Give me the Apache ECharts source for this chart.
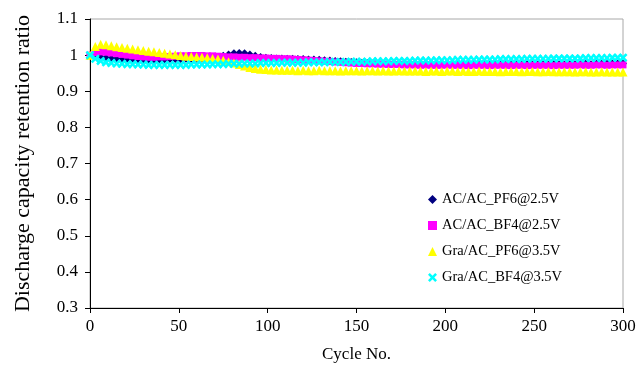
<!DOCTYPE html>
<html>
<head>
<meta charset="utf-8">
<script src="https://cdn.jsdelivr.net/npm/echarts@6/dist/echarts.min.js"></script>
<style>
  html, body { margin: 0; padding: 0; background: #fff; }
  #chart { width: 639px; height: 369px; }
</style>
</head>
<body>
<div id="chart"></div>
<script>
// cycle numbers (every 3rd cycle)
const cycles = [
  0, 3, 6, 9, 12, 15, 18, 21, 24, 27,
  30, 33, 36, 39, 42, 45, 48, 51, 54, 57,
  60, 63, 66, 69, 72, 75, 78, 81, 84, 87,
  90, 93, 96, 99, 102, 105, 108, 111, 114, 117,
  120, 123, 126, 129, 132, 135, 138, 141, 144, 147,
  150, 153, 156, 159, 162, 165, 168, 171, 174, 177,
  180, 183, 186, 189, 192, 195, 198, 201, 204, 207,
  210, 213, 216, 219, 222, 225, 228, 231, 234, 237,
  240, 243, 246, 249, 252, 255, 258, 261, 264, 267,
  270, 273, 276, 279, 282, 285, 288, 291, 294, 297,
  300
]

const seriesNames = ['AC/AC_PF6@2.5V', 'AC/AC_BF4@2.5V', 'Gra/AC_PF6@3.5V', 'Gra/AC_BF4@3.5V']

const acPF6 = [
  1.000, 0.998, 0.995, 0.993, 0.991, 0.990, 0.989, 0.989, 0.988, 0.988,
  0.988, 0.987, 0.988, 0.988, 0.988, 0.989, 0.989, 0.989, 0.990, 0.990,
  0.990, 0.990, 0.991, 0.992, 0.994, 0.998, 1.002, 1.005, 1.006, 1.005,
  1.002, 0.998, 0.995, 0.993, 0.992, 0.991, 0.991, 0.990, 0.990, 0.989,
  0.989, 0.988, 0.988, 0.987, 0.986, 0.985, 0.984, 0.983, 0.982, 0.981,
  0.980, 0.979, 0.978, 0.977, 0.976, 0.976, 0.975, 0.975, 0.975, 0.974,
  0.974, 0.975, 0.974, 0.974, 0.974, 0.973, 0.974, 0.974, 0.973, 0.974,
  0.974, 0.973, 0.974, 0.974, 0.973, 0.974, 0.974, 0.974, 0.973, 0.974,
  0.974, 0.974, 0.975, 0.974, 0.974, 0.975, 0.974, 0.975, 0.975, 0.974,
  0.975, 0.975, 0.975, 0.976, 0.975, 0.976, 0.976, 0.976, 0.977, 0.977,
  0.977
]

const acBF4 = [
  1.000, 1.007, 1.009, 1.008, 1.006, 1.004, 1.002, 1.000, 0.998, 0.996,
  0.995, 0.994, 0.994, 0.995, 0.995, 0.996, 0.997, 0.998, 0.998, 0.999,
  0.999, 0.999, 0.998, 0.998, 0.997, 0.996, 0.995, 0.995, 0.994, 0.994,
  0.993, 0.993, 0.992, 0.992, 0.991, 0.991, 0.990, 0.990, 0.989, 0.988,
  0.987, 0.986, 0.985, 0.984, 0.983, 0.982, 0.981, 0.980, 0.979, 0.978,
  0.977, 0.977, 0.976, 0.976, 0.975, 0.975, 0.974, 0.974, 0.974, 0.973,
  0.973, 0.973, 0.972, 0.973, 0.972, 0.972, 0.972, 0.973, 0.972, 0.972,
  0.972, 0.971, 0.972, 0.972, 0.972, 0.971, 0.972, 0.972, 0.972, 0.971,
  0.972, 0.972, 0.971, 0.972, 0.972, 0.972, 0.972, 0.971, 0.972, 0.972,
  0.972, 0.972, 0.973, 0.972, 0.972, 0.973, 0.973, 0.972, 0.973, 0.973,
  0.973
]

const graPF6 = [
  1.000, 1.024, 1.030, 1.029, 1.026, 1.023, 1.021, 1.019, 1.017, 1.015,
  1.013, 1.011, 1.009, 1.007, 1.005, 1.003, 1.001, 0.999, 0.997, 0.996,
  0.995, 0.994, 0.993, 0.991, 0.989, 0.986, 0.982, 0.978, 0.974, 0.970,
  0.966, 0.963, 0.961, 0.960, 0.959, 0.959, 0.958, 0.958, 0.958, 0.957,
  0.958, 0.957, 0.957, 0.958, 0.957, 0.957, 0.957, 0.956, 0.957, 0.957,
  0.957, 0.956, 0.957, 0.957, 0.956, 0.957, 0.956, 0.956, 0.957, 0.956,
  0.956, 0.956, 0.956, 0.955, 0.956, 0.956, 0.955, 0.956, 0.956, 0.955,
  0.956, 0.955, 0.955, 0.956, 0.955, 0.955, 0.955, 0.954, 0.955, 0.955,
  0.955, 0.954, 0.955, 0.955, 0.954, 0.954, 0.955, 0.954, 0.954, 0.954,
  0.954, 0.953, 0.954, 0.954, 0.953, 0.953, 0.954, 0.953, 0.953, 0.953,
  0.953
]

const graBF4 = [
  1.000, 0.990, 0.984, 0.980, 0.978, 0.977, 0.976, 0.975, 0.975, 0.974,
  0.974, 0.973, 0.973, 0.973, 0.973, 0.973, 0.973, 0.973, 0.973, 0.974,
  0.974, 0.974, 0.974, 0.975, 0.975, 0.975, 0.976, 0.976, 0.976, 0.977,
  0.977, 0.977, 0.978, 0.978, 0.978, 0.978, 0.979, 0.979, 0.979, 0.979,
  0.979, 0.980, 0.980, 0.980, 0.980, 0.981, 0.981, 0.981, 0.981, 0.982,
  0.982, 0.982, 0.982, 0.983, 0.983, 0.983, 0.983, 0.984, 0.984, 0.984,
  0.984, 0.985, 0.985, 0.985, 0.985, 0.986, 0.986, 0.986, 0.986, 0.987,
  0.987, 0.987, 0.987, 0.988, 0.988, 0.988, 0.988, 0.989, 0.989, 0.989,
  0.989, 0.989, 0.990, 0.990, 0.990, 0.990, 0.990, 0.991, 0.991, 0.991,
  0.991, 0.991, 0.991, 0.992, 0.992, 0.992, 0.992, 0.992, 0.993, 0.993,
  0.993
]

const xTicks = { min: 0, max: 300, interval: 50 }
const yTicks = { min: 0.3, max: 1.1, interval: 0.1 }

const serif = '"Liberation Serif", "Times New Roman", serif'
// Excel style "x" marker
const crossPath = 'path://M0,2L2,0L5,3L8,0L10,2L7,5L10,8L8,10L5,7L2,10L0,8L3,5Z'

const pair = (vals) => cycles.map((c, i) => [c, vals[i]])

const chart = echarts.init(document.getElementById('chart'))

const option = {
  backgroundColor: '#fff',
  animation: false,
  grid: {
    left: 90, right: 16, top: 19, bottom: 61,
    show: true,
    borderColor: '#a8a8a8',
    borderWidth: 1
  },
  legend: {
    orient: 'vertical',
    left: 423,
    top: 187,
    itemWidth: 9,
    itemHeight: 9,
    itemGap: 11,
    textStyle: { fontFamily: serif, fontSize: 14.5, color: '#000' },
    data: seriesNames
  },
  xAxis: {
    type: 'value',
    min: xTicks.min, max: xTicks.max, interval: xTicks.interval,
    name: 'Cycle No.',
    nameLocation: 'middle',
    nameGap: 38,
    nameTextStyle: { fontFamily: serif, fontSize: 17, color: '#000' },
    axisLine: { lineStyle: { color: '#000', width: 1 } },
    axisTick: { show: true, length: 5, lineStyle: { color: '#000' } },
    axisLabel: { fontFamily: serif, fontSize: 17, color: '#000', margin: 10 },
    splitLine: { show: false }
  },
  yAxis: {
    type: 'value',
    min: yTicks.min, max: yTicks.max, interval: yTicks.interval,
    name: 'Discharge capacity retention ratio',
    nameLocation: 'middle',
    nameGap: 56,
    nameTextStyle: { fontFamily: serif, fontSize: 22, color: '#000' },
    axisLine: { show: true, lineStyle: { color: '#000', width: 1 } },
    axisTick: { show: true, length: 5, lineStyle: { color: '#000' } },
    axisLabel: {
      fontFamily: serif, fontSize: 17, color: '#000', margin: 12,
      formatter: (v) => String(Math.round(v * 10) / 10)
    },
    splitLine: { show: false }
  },
  series: [
    {
      name: seriesNames[0], type: 'scatter', symbol: 'diamond', symbolSize: 8,
      itemStyle: { color: '#000080', opacity: 1 }, data: pair(acPF6)
    },
    {
      name: seriesNames[1], type: 'scatter', symbol: 'rect', symbolSize: 7,
      itemStyle: { color: '#ff00ff', opacity: 1 }, data: pair(acBF4)
    },
    {
      name: seriesNames[2], type: 'scatter', symbol: 'triangle', symbolSize: 9,
      itemStyle: { color: '#ffff00', opacity: 1 }, data: pair(graPF6)
    },
    {
      name: seriesNames[3], type: 'scatter', symbol: crossPath, symbolSize: 9,
      itemStyle: { color: '#00ffff', opacity: 1 }, data: pair(graBF4)
    }
  ]
}

chart.setOption(option)
</script>
</body>
</html>
